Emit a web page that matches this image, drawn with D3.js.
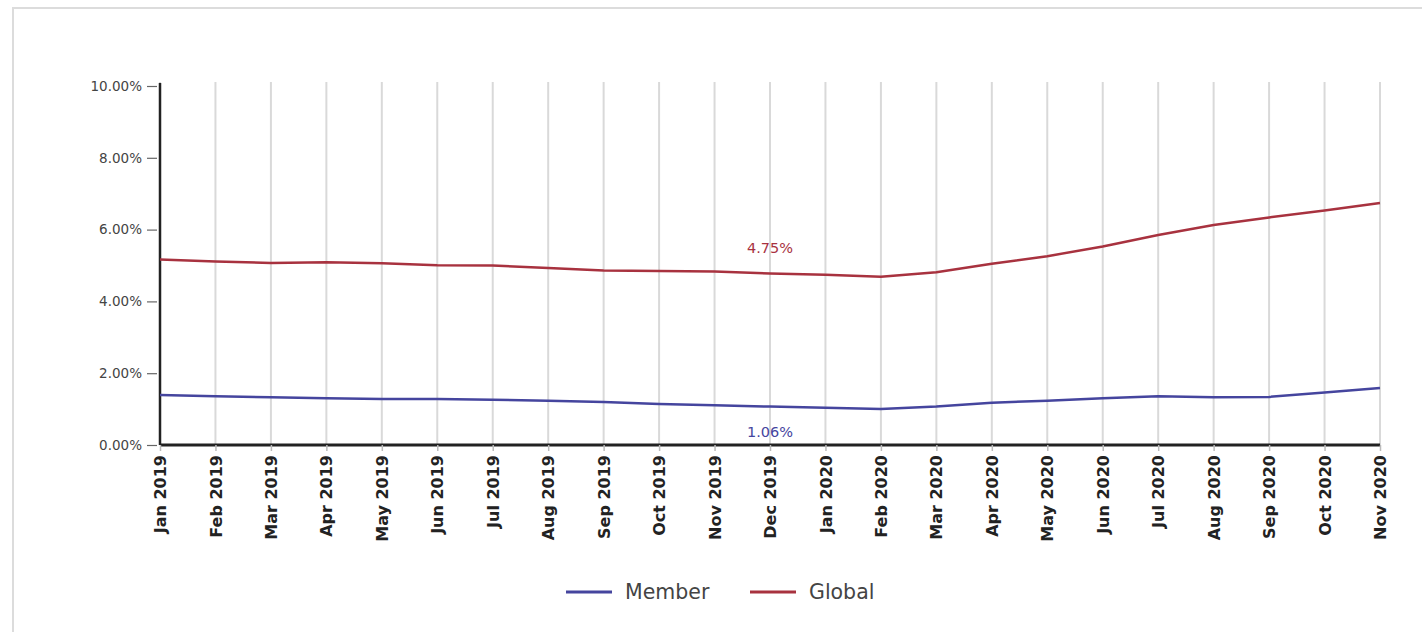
<!DOCTYPE html>
<html>
<head>
<meta charset="utf-8">
<script src="https://cdn.jsdelivr.net/npm/d3@7"></script>
<style>
  html, body { margin: 0; padding: 0; background: #fff; }
  svg { display: block; }
  svg text { font-family: "DejaVu Sans", "Noto Sans", sans-serif; }
</style>
</head>
<body>
<svg id="chart" width="1422" height="632"></svg>
<script>
const categories = ["Jan 2019","Feb 2019","Mar 2019","Apr 2019","May 2019","Jun 2019","Jul 2019","Aug 2019","Sep 2019","Oct 2019","Nov 2019","Dec 2019","Jan 2020","Feb 2020","Mar 2020","Apr 2020","May 2020","Jun 2020","Jul 2020","Aug 2020","Sep 2020","Oct 2020","Nov 2020"];
const member = [1.39,1.36,1.33,1.30,1.28,1.28,1.26,1.23,1.20,1.14,1.11,1.07,1.04,1.00,1.07,1.18,1.23,1.30,1.36,1.33,1.34,1.46,1.59];
const global = [5.17,5.11,5.07,5.09,5.06,5.01,5.00,4.93,4.86,4.85,4.83,4.78,4.74,4.69,4.81,5.05,5.26,5.53,5.85,6.13,6.34,6.53,6.74];
const yTicks = [0,2,4,6,8,10];
const seriesNames = ["Member","Global"];
const seriesColors = ["#45459e","#a8323f"];
const annotations = [
  {series: "Global", index: 11, label: "4.75%"},
  {series: "Member", index: 11, label: "1.06%"}
];

const svg = d3.select("#chart");
const margin = {left: 160, right: 42, top: 86, bottom: 187};
const W = 1422, H = 632;
const x = d3.scalePoint().domain(categories).range([margin.left, W - margin.right]);
const y = d3.scaleLinear().domain([0, 10]).range([H - margin.bottom, margin.top]);

// frame
svg.append("rect").attr("x", 13).attr("y", 8).attr("width", 1440).attr("height", 700)
  .attr("fill", "none").attr("stroke", "#dcdcdc").attr("stroke-width", 2);

// vertical gridlines
svg.append("g").selectAll("line").data(categories).join("line")
  .attr("x1", d => x(d)).attr("x2", d => x(d))
  .attr("y1", y(10) - 4).attr("y2", y(0))
  .attr("stroke", "#d9d9d9").attr("stroke-width", 2);

// y axis
const yAxis = d3.axisLeft(y).tickValues(yTicks).tickFormat(d => d.toFixed(2) + "%").tickSize(13).tickPadding(5);
const gy = svg.append("g").attr("transform", `translate(${margin.left},0)`).call(yAxis);
gy.attr("font-family", null);
gy.select(".domain").attr("stroke", "#222").attr("stroke-width", 2.5).attr("d", `M0,${y(10)-3}V${y(0)}`);
gy.selectAll(".tick line").attr("stroke", "#666").attr("stroke-width", 1.2).attr("x2", -13).attr("x1", -3);
gy.selectAll(".tick text").attr("fill", "#444").style("font-size", "13.5px").attr("x", -18);

// x axis
const xAxis = d3.axisBottom(x).tickSize(6).tickPadding(6);
const gx = svg.append("g").attr("transform", `translate(0,${y(0)})`).call(xAxis);
gx.attr("font-family", null);
gx.select(".domain").attr("stroke", "#222").attr("stroke-width", 3).attr("d", `M${margin.left},0H${W - margin.right}`);
gx.selectAll(".tick line").attr("stroke", "#bbb").attr("stroke-width", 1.5);
gx.selectAll(".tick text")
  .attr("transform", "rotate(-90)")
  .attr("x", -10).attr("y", 0).attr("dy", "0.35em")
  .attr("text-anchor", "end")
  .attr("fill", "#222")
  .style("font-size", "16px").style("font-weight", "bold");

// lines
const line = d3.line().x((d, i) => x(categories[i])).y(d => y(d));
const data = {Member: member, Global: global};
seriesNames.forEach((name, k) => {
  svg.append("path").datum(data[name])
    .attr("fill", "none").attr("stroke", seriesColors[k]).attr("stroke-width", 2.5)
    .attr("d", line);
});

// annotations
annotations.forEach(a => {
  const k = seriesNames.indexOf(a.series);
  const v = data[a.series][a.index];
  const above = a.series === "Global";
  svg.append("text")
    .attr("x", x(categories[a.index]))
    .attr("y", above ? y(v) - 20 : y(v) + 30)
    .attr("text-anchor", "middle")
    .attr("fill", seriesColors[k])
    .style("font-size", "14.5px")
    .text(a.label);
});

// legend
const legendX = [566, 750];
seriesNames.forEach((name, k) => {
  const g = svg.append("g").attr("transform", `translate(${legendX[k]},592)`);
  g.append("line").attr("x1", 0).attr("x2", 46).attr("y1", 0).attr("y2", 0)
    .attr("stroke", seriesColors[k]).attr("stroke-width", 3);
  g.append("text").attr("x", 59).attr("y", 0).attr("dy", "0.35em")
    .attr("fill", "#444").style("font-size", "20.5px").text(name);
});
</script>
</body>
</html>
